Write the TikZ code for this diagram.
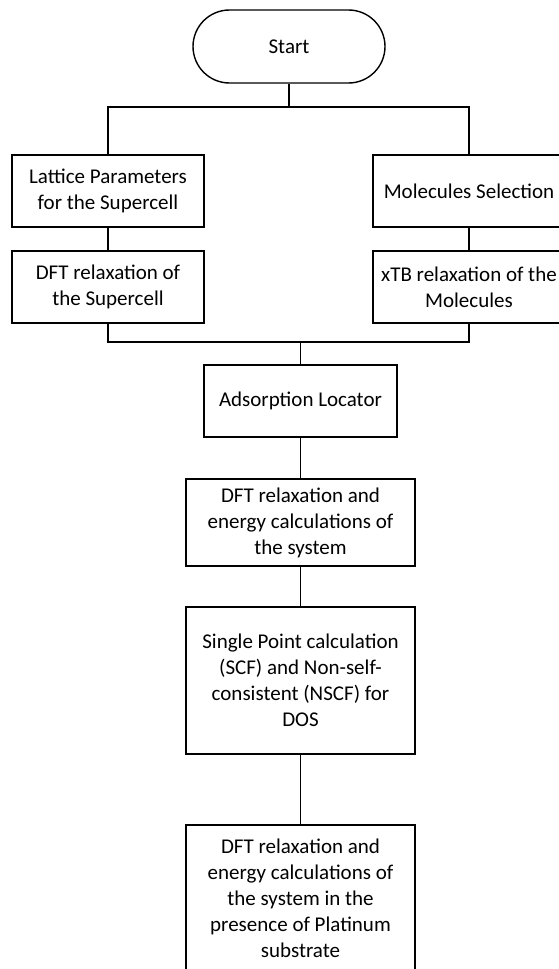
\documentclass[tikz,border=0pt]{standalone}
\usepackage{fontspec}
\setmainfont{Carlito}
\tikzset{
  kasten/.style={draw, rectangle, line width=1.4pt, minimum width=192pt, minimum height=72pt,
    align=center, inner sep=0pt, font=\fontsize{21}{26}\selectfont},
  breit/.style={kasten, minimum width=229pt},
  startbox/.style={kasten, rounded corners=36.5pt, minimum height=73pt},
  linie/.style={line width=1.4pt}
}
\begin{document}
\begin{tikzpicture}[x=1pt, y=-1pt]
    \useasboundingbox (0,0) rectangle (559,969);

    % Knoten
    \node[startbox] (start) at (289,46.5) {Start};
    \node[kasten] (lattice) at (108,191) {Lattice Parameters\\for the Supercell};
    \node[kasten] (dftcell) at (108,287) {DFT relaxation of\\the Supercell};
    \node[kasten] (molsel) at (469,191) {Molecules Selection};
    \node[kasten] (xtb) at (469,287) {xTB relaxation of the\\Molecules};
    \node[kasten, minimum width=193pt] (adsorb) at (300.5,401) {Adsorption Locator};
    \node[breit, minimum height=87pt] (dftsys) at (300.5,522.5)
        {DFT relaxation and\\energy calculations of\\the system};
    \node[breit, minimum height=147pt] (scf) at (300.5,680.5)
        {Single Point calculation\\(SCF) and Non-self-\\consistent (NSCF) for\\DOS};
    \node[breit, minimum height=147pt] (dftpt) at (300.5,898.5)
        {DFT relaxation and\\energy calculations of\\the system in the\\presence of Platinum\\substrate};

    % Verzweigung
    \coordinate (split) at (289,107);
    \coordinate (merge) at (300.5,342);

    % Verbindungen
    \draw[linie] (start) -- (split);
    \draw[linie] (lattice.north) |- (split) -| (molsel.north);
    \draw[linie] (lattice) -- (dftcell);
    \draw[linie] (molsel) -- (xtb);
    \draw[linie] (dftcell.south) |- (merge) -| (xtb.south);
    \draw[linie] (merge) -- (adsorb);
    \draw[linie] (adsorb) -- (dftsys);
    \draw[linie] (dftsys) -- (scf);
    \draw[linie] (scf) -- (dftpt);
\end{tikzpicture}
\end{document}
